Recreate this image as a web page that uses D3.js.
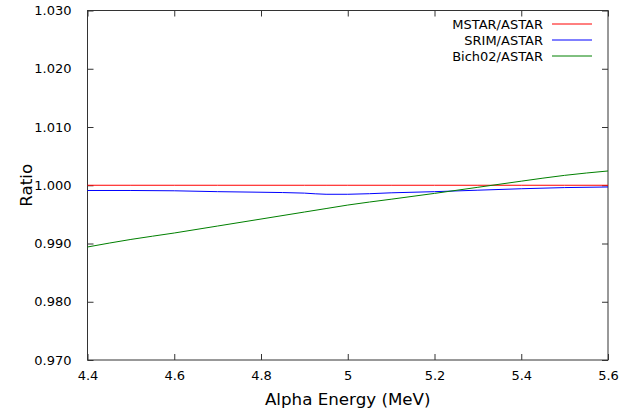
<!DOCTYPE html>
<html><head><meta charset="utf-8">
<script src="https://cdn.jsdelivr.net/npm/d3@7"></script>
<style>body{margin:0;background:#fff}svg{display:block}text{font-family:"DejaVu Sans",sans-serif;fill:#000}</style>
</head><body>
<script>
const energies = [4.4, 4.5, 4.6, 4.7, 4.8, 4.9, 4.95, 5.0, 5.1, 5.2, 5.3, 5.4, 5.5, 5.6];
const mstar = [1.0, 1.0, 1.0, 1.0, 1.0, 1.0, 1.0, 1.0, 1.0, 1.0, 1.0, 1.0, 1.0, 1.0];
const srim = [0.9991, 0.9991, 0.99905, 0.9989, 0.9988, 0.99865, 0.99845, 0.99845, 0.9987, 0.9989, 0.99915, 0.9994, 0.9996, 0.9997];
const bich = [0.9894, 0.9907, 0.9918, 0.9930, 0.9942, 0.9954, 0.9960, 0.9966, 0.9976, 0.9986, 0.99965, 1.0007, 1.0017, 1.00245];
const xTicks = [4.4, 4.6, 4.8, 5.0, 5.2, 5.4, 5.6];
const yTicks = [0.97, 0.98, 0.99, 1.00, 1.01, 1.02, 1.03];
const seriesNames = ["MSTAR/ASTAR", "SRIM/ASTAR", "Bich02/ASTAR"];
const seriesColors = ["#ff0000", "#0000ff", "#008000"];

const W = 624, H = 409;
const m = {l: 87.5, r: 608, t: 10.5, b: 360};
const axisColor = "#333";
const svg = d3.select("body").append("svg").attr("width", W).attr("height", H);
const x = d3.scaleLinear().domain([4.4, 5.6]).range([m.l, m.r]);
const y = d3.scaleLinear().domain([0.97, 1.03]).range([m.b, m.t]);

const fmtX = d => (Math.abs(d - 5) < 1e-9 ? "5" : d3.format(".1f")(d));
const tickLen = 6;
const gB = svg.append("g").attr("transform", `translate(0,${m.b})`)
  .call(d3.axisBottom(x).tickValues(xTicks).tickFormat(fmtX).tickSizeInner(-tickLen).tickSizeOuter(0).tickPadding(11));
const gT = svg.append("g").attr("transform", `translate(0,${m.t})`)
  .call(d3.axisTop(x).tickValues(xTicks).tickFormat("").tickSizeInner(-tickLen).tickSizeOuter(0));
const gL = svg.append("g").attr("transform", `translate(${m.l},0)`)
  .call(d3.axisLeft(y).tickValues(yTicks).tickFormat(d3.format(".3f")).tickSizeInner(-tickLen).tickSizeOuter(0).tickPadding(16));
const gR = svg.append("g").attr("transform", `translate(${m.r},0)`)
  .call(d3.axisRight(y).tickValues(yTicks).tickFormat("").tickSizeInner(-tickLen).tickSizeOuter(0));
[gB, gT, gL, gR].forEach(g => {
  g.select(".domain").remove();
  g.selectAll("line").attr("stroke", axisColor).attr("stroke-width", 1);
  g.selectAll("text").style("font-size", "13px").attr("fill", "#000");
});
svg.append("rect").attr("x", m.l).attr("y", m.t).attr("width", m.r - m.l).attr("height", m.b - m.t)
  .attr("fill", "none").attr("stroke", axisColor).attr("stroke-width", 1);

const data = [mstar, srim, bich];
const line = d3.line().x((d, i) => x(energies[i])).y(d => y(d)).curve(d3.curveMonotoneX);
data.forEach((s, k) => {
  svg.append("path").datum(s).attr("d", line).attr("fill", "none")
    .attr("stroke", seriesColors[k]).attr("stroke-width", 1);
});

seriesNames.forEach((n, k) => {
  const yy = 24 + k * 16;
  svg.append("text").attr("x", 543).attr("y", yy).attr("dy", "0.35em").attr("text-anchor", "end")
    .style("font-size", "13px").text(n);
  svg.append("line").attr("x1", 552).attr("x2", 592).attr("y1", yy).attr("y2", yy)
    .attr("stroke", seriesColors[k]).attr("stroke-width", 1);
});

svg.append("text").attr("x", (m.l + m.r) / 2).attr("y", 405).attr("text-anchor", "middle")
  .style("font-size", "16.7px").text("Alpha Energy (MeV)");
svg.append("text").attr("transform", `translate(32,${(m.t + m.b) / 2}) rotate(-90)`).attr("text-anchor", "middle")
  .style("font-size", "16.7px").text("Ratio");
</script>
</body></html>
